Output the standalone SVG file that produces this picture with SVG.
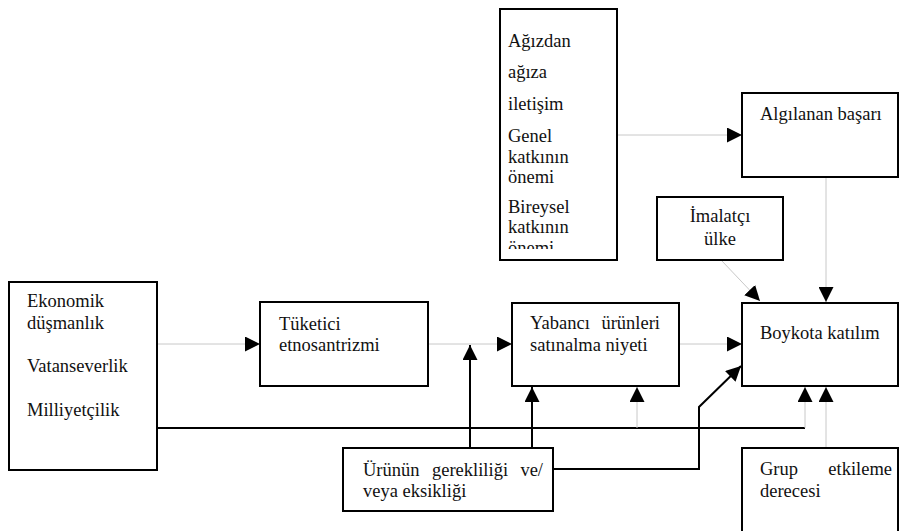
<svg xmlns="http://www.w3.org/2000/svg" width="899" height="531" viewBox="0 0 899 531">
<style>
text{font-family:"Liberation Serif","Times New Roman",serif;font-size:18.5px;fill:#111}
.box{fill:#fff;stroke:#000;stroke-width:2}
.g{stroke:#c8c8c8;stroke-width:1;fill:none}
.k{stroke:#000;stroke-width:2;fill:none}
</style>
<defs>
<marker id="ah" markerUnits="userSpaceOnUse" markerWidth="15" markerHeight="15" refX="15" refY="7.5" orient="auto" viewBox="0 0 15 15">
<path d="M0,0 L15,7.5 L0,15 z" fill="#000"/>
</marker>
<clipPath id="topclip"><rect x="500" y="9" width="117" height="240"/></clipPath>
</defs>
<rect width="899" height="531" fill="#fff"/>
<g id="connectors">
<line class="g" x1="157" y1="344" x2="260" y2="344" marker-end="url(#ah)"/>
<line class="g" x1="428" y1="344" x2="512" y2="344" marker-end="url(#ah)"/>
<line class="g" x1="679" y1="344" x2="742" y2="344" marker-end="url(#ah)"/>
<line class="g" x1="617" y1="135" x2="742" y2="135" marker-end="url(#ah)"/>
<line class="g" x1="826" y1="177" x2="826" y2="302" marker-end="url(#ah)"/>
<line class="g" x1="722" y1="261" x2="760" y2="301" marker-end="url(#ah)"/>
<polyline class="k" points="157,428 805,428"/>
<line class="g" x1="805" y1="428" x2="805" y2="387" marker-end="url(#ah)"/>
<line class="g" x1="637" y1="428" x2="637" y2="387" marker-end="url(#ah)"/>
<line class="g" x1="826" y1="448" x2="826" y2="387" marker-end="url(#ah)"/>
<line class="k" x1="470" y1="448" x2="470" y2="345" marker-end="url(#ah)"/>
<line class="k" x1="532" y1="448" x2="532" y2="387" marker-end="url(#ah)"/>
<polyline class="k" points="553,469 699,469 699,407 741,366" marker-end="url(#ah)"/>
</g>
<g id="node-iletisim">
<rect class="box" x="500" y="9" width="117" height="251"/>
<g clip-path="url(#topclip)">
<text x="508" y="47">Ağızdan</text>
<text x="508" y="78">ağıza</text>
<text x="508" y="110">iletişim</text>
<text x="508" y="142">Genel</text>
<text x="508" y="163">katkının</text>
<text x="508" y="183">önemi</text>
<text x="508" y="213">Bireysel</text>
<text x="508" y="233">katkının</text>
<text x="508" y="254">önemi</text>
</g>
</g>
<g id="node-algilanan">
<rect class="box" x="742" y="93" width="156" height="84"/>
<text x="760" y="120">Algılanan başarı</text>
</g>
<g id="node-imalatci">
<rect class="box" x="657" y="197" width="126" height="63"/>
<text x="720" y="222" text-anchor="middle">İmalatçı</text>
<text x="720" y="245" text-anchor="middle">ülke</text>
</g>
<g id="node-ekonomik">
<rect class="box" x="9" y="282" width="148" height="188"/>
<text x="27" y="307">Ekonomik</text>
<text x="27" y="329">düşmanlık</text>
<text x="27" y="372">Vatanseverlik</text>
<text x="27" y="416">Milliyetçilik</text>
</g>
<g id="node-tuketici">
<rect class="box" x="260" y="302" width="168" height="84"/>
<text x="279" y="330">Tüketici</text>
<text x="279" y="351">etnosantrizmi</text>
</g>
<g id="node-yabanci">
<rect class="box" x="512" y="303" width="167" height="83"/>
<text x="530" y="329">Yabancı</text>
<text x="660" y="329" text-anchor="end">ürünleri</text>
<text x="530" y="351">satınalma niyeti</text>
</g>
<g id="node-boykot">
<rect class="box" x="742" y="303" width="156" height="83"/>
<text x="760" y="339">Boykota katılım</text>
</g>
<g id="node-urunun">
<rect class="box" x="343" y="448" width="210" height="63"/>
<text x="363" y="476">Ürünün</text>
<text x="432" y="476">gerekliliği</text>
<text x="543" y="476" text-anchor="end">ve/</text>
<text x="363" y="497">veya eksikliği</text>
</g>
<g id="node-grup">
<rect class="box" x="742" y="448" width="156" height="90"/>
<text x="760" y="475">Grup</text>
<text x="892" y="475" text-anchor="end">etkileme</text>
<text x="760" y="497">derecesi</text>
</g>
</svg>
